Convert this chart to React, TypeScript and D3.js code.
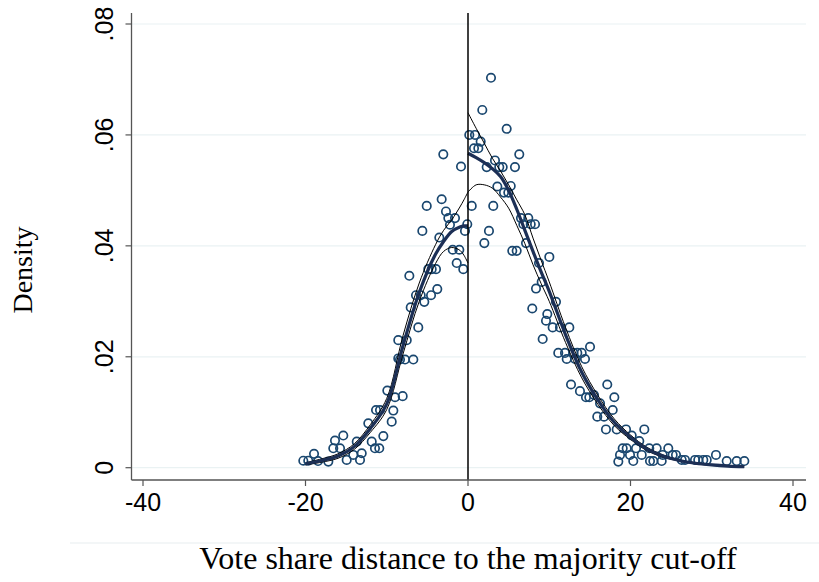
import React from "react";
import * as d3 from "d3";

// Binned density scatter: [vote share distance, density]
const binX: number[] = [
  -20.27, -19.66, -18.95, -18.46, -17.19, -16.37, -16.58, -15.35, -15.75, -14.93,
  -14.12, -13.29, -13.69, -13.08, -12.27, -11.85, -11.45, -10.92, -10.42, -11.32,
  -10.83, -9.39, -9.19, -9.93, -8.98, -8.58, -8.58, -7.54, -8.37, -7.75,
  -6.73, -6.12, -7.05, -6.4, -5.82, -5.38, -4.55, -3.78, -7.22, -4.89,
  -4.47, -3.94, -3.53, -5.62, -5.08, -3.24, -2.71, -2.42, -1.6, -2.22,
  -1.88, -1.07, -1.39, -0.58, -0.37, -0.09, -3.04, -0.86, -8.04,
  0.16, 0.86, 1.56, 0.74, 1.27, 0.46, 2.83, 1.76, 4.76, 3.32,
  6.31, 2.3, 3.85, 4.27, 5.78, 3.61, 5.26, 4.43, 4.96, 3.11,
  6.52, 7.42, 6.81, 7.72, 8.25, 2.58, 2.01, 7.14, 5.45, 5.99,
  10.01, 8.74, 9.07, 8.37, 10.83, 7.91, 9.76, 9.6, 10.42, 11.32,
  12.47, 9.19, 15.02, 11.11, 11.94, 12.96, 13.45, 13.99, 12.15, 13.17,
  14.4, 12.68, 13.78, 17.14, 14.52, 14.93, 15.51, 18.01, 16.25, 17.81,
  15.91, 16.74, 16.98, 18.3, 19.45, 19.04, 19.53, 18.71, 18.5, 21.7,
  20.15, 21.08, 20.68, 22.31, 23.22, 24.65, 19.94, 21.38, 23.96, 25.19,
  25.6, 20.34, 22.4, 22.81, 23.84, 26.3, 26.71, 27.94, 28.34, 28.96,
  29.38, 30.52, 31.84, 33.07, 34.01
];
const binY: number[] = [
  0.00126, 0.00126, 0.0025, 0.0012, 0.0011, 0.0049, 0.0035, 0.0058, 0.0035, 0.0014,
  0.0023, 0.0014, 0.0047, 0.0026, 0.008, 0.0047, 0.0035, 0.0035, 0.0057, 0.0104,
  0.0104, 0.0083, 0.0103, 0.0139, 0.0127, 0.0197, 0.023, 0.023, 0.0195, 0.0195,
  0.0195, 0.0253, 0.0289, 0.0311, 0.0311, 0.0299, 0.0311, 0.0322, 0.0346, 0.0358,
  0.0358, 0.0358, 0.0415, 0.0427, 0.0472, 0.0484, 0.0462, 0.045, 0.045, 0.0438,
  0.0393, 0.0393, 0.0369, 0.0358, 0.0427, 0.0439, 0.0565, 0.0543, 0.0129,
  0.06, 0.06, 0.0588, 0.0576, 0.0576, 0.0472, 0.0703, 0.0645, 0.0611, 0.0554,
  0.0565, 0.0542, 0.0542, 0.0542, 0.0542, 0.0507, 0.0508, 0.0496, 0.0496, 0.0472,
  0.045, 0.045, 0.0439, 0.0439, 0.0439, 0.0427, 0.0405, 0.0405, 0.0391, 0.0391,
  0.038, 0.0369, 0.0335, 0.0323, 0.0299, 0.0287, 0.0277, 0.0265, 0.0253, 0.0253,
  0.0253, 0.0232, 0.0218, 0.0207, 0.0207, 0.0207, 0.0207, 0.0207, 0.0196, 0.0196,
  0.0196, 0.015, 0.0138, 0.015, 0.0127, 0.0127, 0.0131, 0.0127, 0.0116, 0.0104,
  0.0092, 0.0092, 0.0069, 0.0069, 0.0069, 0.0035, 0.0035, 0.0023, 0.0011, 0.0069,
  0.0058, 0.0048, 0.0035, 0.0035, 0.0035, 0.0035, 0.0023, 0.0023, 0.0023, 0.0023,
  0.0023, 0.0012, 0.0012, 0.0012, 0.0012, 0.0014, 0.0014, 0.0014, 0.0014, 0.0014,
  0.0014, 0.0023, 0.0012, 0.0012, 0.0012
];

// Left-of-cutoff fit and confidence band
const leftX: number[] = [-20, -18, -16, -14, -12, -10, -8, -6, -4, -3, -2, -1, -0.5, 0];
const leftFit: number[] = [0.0007, 0.0013, 0.0021, 0.0038, 0.0071, 0.0115, 0.022, 0.0316, 0.0385, 0.0408, 0.0426, 0.0434, 0.0436, 0.0436];
const leftHi: number[] = [0.0009, 0.0016, 0.0025, 0.0043, 0.0078, 0.0125, 0.0238, 0.0333, 0.0402, 0.0428, 0.0447, 0.047, 0.0483, 0.0497];
const leftLo: number[] = [0.0005, 0.001, 0.0017, 0.0033, 0.0064, 0.0105, 0.0205, 0.03, 0.0368, 0.039, 0.0397, 0.0392, 0.0383, 0.0369];

// Right-of-cutoff fit and confidence band
const rightX: number[] = [0, 1, 2, 3, 4, 5, 6, 7, 8, 9, 10, 12, 14, 16, 18, 20, 22, 24, 26, 28, 30, 32, 34];
const rightFit: number[] = [0.0567, 0.0559, 0.055, 0.0539, 0.0525, 0.05, 0.0466, 0.0428, 0.039, 0.0353, 0.0318, 0.024, 0.0172, 0.0122, 0.0082, 0.0055, 0.0034, 0.0021, 0.0013, 0.0008, 0.0005, 0.0003, 0.0002];
const rightHi: number[] = [0.064, 0.0612, 0.0585, 0.0558, 0.0535, 0.051, 0.0483, 0.0456, 0.0414, 0.0374, 0.0335, 0.0253, 0.0182, 0.013, 0.0088, 0.0059, 0.0037, 0.0023, 0.0014, 0.0009, 0.0006, 0.0004, 0.0003];
const rightLo: number[] = [0.0497, 0.051, 0.051, 0.0504, 0.0488, 0.0468, 0.0437, 0.0404, 0.0366, 0.0332, 0.03, 0.0226, 0.0162, 0.0114, 0.0076, 0.0051, 0.0031, 0.0019, 0.0012, 0.0007, 0.0004, 0.0003, 0.0001];

const xTicks: number[] = [-40, -20, 0, 20, 40];
const yTicks: number[] = [0, 0.02, 0.04, 0.06, 0.08];
const yTickLabels: string[] = ["0", ".02", ".04", ".06", ".08"];
const xTitle = "Vote share distance to the majority cut-off";
const yTitle = "Density";

export default function App() {
  const W = 819;
  const H = 582;
  const plotL = 131.5;
  const plotR = 806;
  const plotT = 13;
  const plotB = 480;
  const x = d3.scaleLinear().domain([-40, 40]).range([143, 793]);
  const y = d3.scaleLinear().domain([0, 0.08]).range([467.7, 24]);

  const line = d3
    .line<[number, number]>()
    .x((d) => x(d[0]))
    .y((d) => y(d[1]))
    .curve(d3.curveCatmullRom.alpha(0.5));

  const mk = (xs: number[], ys: number[]) => line(xs.map((v, i) => [v, ys[i]] as [number, number])) || "";

  const sansFont = "'Liberation Sans', Arial, Helvetica, sans-serif";
  const serifFont = "'Liberation Serif', 'Times New Roman', serif";
  const navy = "#1a476f";
  const fitColor = "#1c2f55";

  return (
    <svg
      width={W}
      height={H}
      style={{ position: "absolute", left: 0, top: 0, background: "#fff" }}
    >
      <rect x={0} y={0} width={W} height={H} fill="#fff" />
      {/* gridlines */}
      {yTicks.map((t) => (
        <line key={"g" + t} x1={plotL} x2={plotR} y1={y(t)} y2={y(t)} stroke="#eaf2f3" strokeWidth={1.2} />
      ))}
      {/* scatter */}
      {binX.map((v, i) => (
        <circle key={"p" + i} cx={x(v)} cy={y(binY[i])} r={4.2} fill="none" stroke={navy} strokeWidth={1.7} />
      ))}
      {/* bands */}
      <path d={mk(leftX, leftHi)} fill="none" stroke="#000" strokeWidth={1} />
      <path d={mk(leftX, leftLo)} fill="none" stroke="#000" strokeWidth={1} />
      <path d={mk(rightX, rightHi)} fill="none" stroke="#000" strokeWidth={1} />
      <path d={mk(rightX, rightLo)} fill="none" stroke="#000" strokeWidth={1} />
      {/* fits */}
      <path d={mk(leftX, leftFit)} fill="none" stroke={fitColor} strokeWidth={3.2} />
      <path d={mk(rightX, rightFit)} fill="none" stroke={fitColor} strokeWidth={3.2} />
      {/* cutoff line */}
      <line x1={x(0)} x2={x(0)} y1={plotT} y2={plotB} stroke="#000" strokeWidth={1.5} />
      {/* axes */}
      <line x1={plotL} x2={plotL} y1={plotT} y2={plotB} stroke="#555" strokeWidth={1.3} />
      <line x1={plotL} x2={plotR} y1={plotB} y2={plotB} stroke="#555" strokeWidth={1.3} />
      {yTicks.map((t, i) => (
        <g key={"yt" + t}>
          <line x1={plotL - 6} x2={plotL} y1={y(t)} y2={y(t)} stroke="#555" strokeWidth={1.2} />
          <text
            transform={`translate(113,${y(t)}) rotate(-90)`}
            textAnchor="middle"
            fontFamily={sansFont}
            fontSize={25}
            fill="#000"
          >
            {yTickLabels[i]}
          </text>
        </g>
      ))}
      {xTicks.map((t) => (
        <g key={"xt" + t}>
          <line x1={x(t)} x2={x(t)} y1={plotB} y2={plotB + 6} stroke="#555" strokeWidth={1.2} />
          <text x={x(t)} y={511} textAnchor="middle" fontFamily={sansFont} fontSize={25} fill="#000">
            {t}
          </text>
        </g>
      ))}
      {/* separator */}
      <line x1={70} x2={W} y1={543} y2={543} stroke="#e8eef0" strokeWidth={1.2} />
      {/* titles */}
      <text x={468} y={569} textAnchor="middle" fontFamily={serifFont} fontSize={32} fill="#000">
        {xTitle}
      </text>
      <text
        transform={`translate(32,270) rotate(-90)`}
        textAnchor="middle"
        fontFamily={serifFont}
        fontSize={28}
        fill="#000"
      >
        {yTitle}
      </text>
    </svg>
  );
}
